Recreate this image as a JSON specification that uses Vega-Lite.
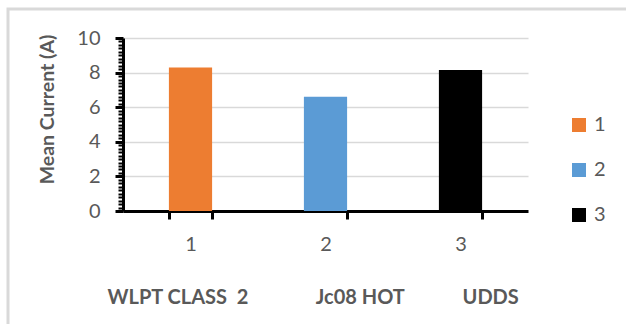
{
  "$schema": "https://vega.github.io/schema/vega-lite/v6.json",
  "autosize": "none",
  "width": 620,
  "height": 318,
  "padding": {"left": 8, "top": 9, "right": 0, "bottom": 0},
  "background": "white",
  "config": {
    "view": {"stroke": "#d9d9d9", "strokeWidth": 3},
    "font": "Lato"
  },
  "data": {
    "values": [
      {"cycle": "1", "current": 8.3},
      {"cycle": "2", "current": 6.6},
      {"cycle": "3", "current": 8.15}
    ]
  },
  "mark": {"type": "bar"},
  "encoding": {
    "x": {
      "field": "cycle",
      "type": "nominal",
      "sort": null,
      "scale": {"range": [115, 520], "paddingInner": 0.68, "paddingOuter": 0.34},
      "axis": {
        "orient": "bottom",
        "offset": -116,
        "labelAngle": 0,
        "labelFontSize": 20,
        "labelColor": "#595959",
        "labelPadding": 15,
        "domainColor": "black",
        "domainWidth": 3,
        "tickColor": "black",
        "tickWidth": 3,
        "tickSize": 8,
        "tickBand": "extent",
        "grid": false,
        "title": "WLPT CLASS\u00a0\u00a02\u00a0\u00a0\u00a0\u00a0\u00a0\u00a0\u00a0\u00a0\u00a0\u00a0\u00a0\u00a0\u00a0\u00a0Jc08 HOT\u00a0\u00a0\u00a0\u00a0\u00a0\u00a0\u00a0\u00a0\u00a0\u00a0\u00a0\u00a0UDDS",
        "titleFontSize": 20,
        "titleFontWeight": "bold",
        "titleColor": "#595959",
        "titleX": 99,
        "titleY": 86,
        "titleAlign": "left",
        "titleBaseline": "middle"
      }
    },
    "y": {
      "field": "current",
      "type": "quantitative",
      "scale": {"domain": [0, 10], "range": [202, 29], "nice": false, "zero": true},
      "axis": {
        "orient": "left",
        "offset": -115,
        "values": [0, 0.2, 0.4, 0.6, 0.8, 1, 1.2, 1.4, 1.6, 1.8, 2, 2.2, 2.4, 2.6, 2.8, 3, 3.2, 3.4, 3.6, 3.8, 4, 4.2, 4.4, 4.6, 4.8, 5, 5.2, 5.4, 5.6, 5.8, 6, 6.2, 6.4, 6.6, 6.8, 7, 7.2, 7.4, 7.6, 7.8, 8, 8.2, 8.4, 8.6, 8.8, 9, 9.2, 9.4, 9.6, 9.8, 10],
        "labelExpr": "abs(datum.value / 2 - round(datum.value / 2)) < 0.01 ? toString(round(datum.value)) : ''",
        "labelOverlap": false,
        "labelFlush": false,
        "labelFontSize": 20,
        "labelColor": "#595959",
        "labelPadding": 15,
        "domainColor": "black",
        "domainWidth": 3,
        "tickColor": "black",
        "tickWidth": {"condition": {"test": "abs(datum.value / 2 - round(datum.value / 2)) < 0.01", "value": 3}, "value": 2},
        "tickSize": {"condition": {"test": "abs(datum.value / 2 - round(datum.value / 2)) < 0.01", "value": 8}, "value": 5},
        "grid": true,
        "gridColor": "#d9d9d9",
        "gridWidth": 1.5,
        "gridOpacity": {"condition": {"test": "abs(datum.value / 2 - round(datum.value / 2)) < 0.01 && datum.value > 0.5", "value": 1}, "value": 0},
        "title": "Mean Current (A)",
        "titleFontSize": 19.5,
        "titleFontWeight": "bold",
        "titleColor": "#595959",
        "titleX": -76,
        "titleY": 100,
        "titleAlign": "center",
        "titleBaseline": "middle",
        "titleAngle": -90
      }
    },
    "color": {
      "field": "cycle",
      "type": "nominal",
      "scale": {"domain": ["1", "2", "3"], "range": ["#ED7D31", "#5B9BD5", "#000000"]},
      "legend": {
        "title": null,
        "orient": "none",
        "legendX": 561,
        "legendY": 106,
        "padding": 0,
        "symbolType": "square",
        "symbolSize": 196,
        "symbolStrokeWidth": 0,
        "labelFontSize": 20,
        "labelColor": "#595959",
        "labelOffset": 5,
        "rowPadding": 25
      }
    }
  }
}
